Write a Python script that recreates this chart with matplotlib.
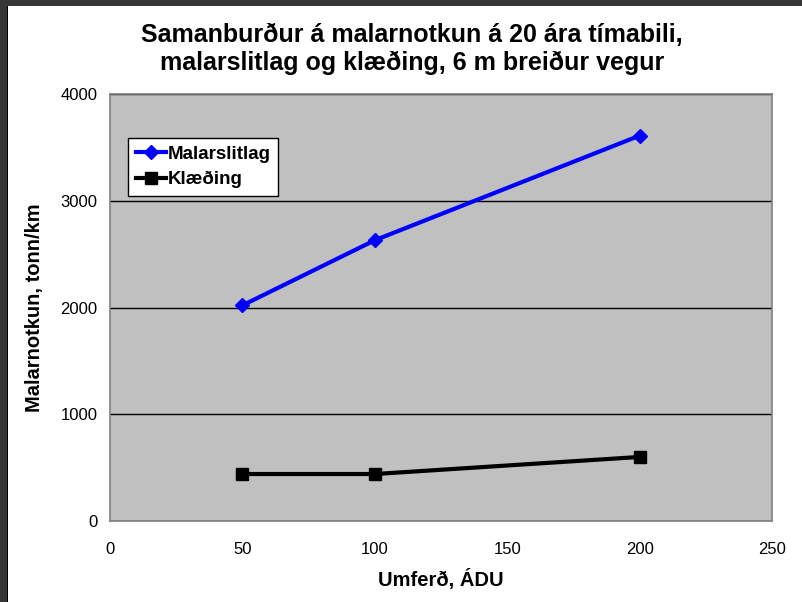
import matplotlib

matplotlib.use("Agg")
import matplotlib.pyplot as plt
from matplotlib.patches import Rectangle

plt.rcParams["font.family"] = ["Liberation Sans", "DejaVu Sans"]

umferd = [50, 100, 200]
malarslitlag = [2020, 2630, 3610]
klaeding = [440, 440, 600]

x_ticks = [0, 50, 100, 150, 200, 250]
y_ticks = [0, 1000, 2000, 3000, 4000]

fig = plt.figure(figsize=(8.02, 6.02), dpi=100)
fig.patch.set_facecolor("white")

# dark frame round the picture (left and top)
fig.patches.append(Rectangle((0, 0), 7 / 802, 1, transform=fig.transFigure,
                             facecolor="#363636", edgecolor="none", zorder=0))
fig.patches.append(Rectangle((0, 1 - 6 / 602), 1, 6 / 602, transform=fig.transFigure,
                             facecolor="#363636", edgecolor="none", zorder=0))
fig.patches.append(Rectangle((7 / 802, 0), 1.2 / 802, 1 - 6 / 602, transform=fig.transFigure,
                             facecolor="black", edgecolor="none", zorder=0))

ax = fig.add_axes([110 / 802, 81 / 602, 662 / 802, 427 / 602])
ax.set_facecolor("#c0c0c0")
for side in ax.spines.values():
    side.set_color("#808080")
    side.set_linewidth(1.2)

ax.plot(umferd, malarslitlag, color="#0000ff", linewidth=3, marker="D",
        markersize=7, label="Malarslitlag", zorder=3)
ax.plot(umferd, klaeding, color="black", linewidth=3, marker="s",
        markersize=8, label="Klæðing", zorder=3)

ax.set_xlim(0, 250)
ax.set_ylim(0, 4000)
ax.set_xticks(x_ticks)
ax.set_yticks(y_ticks)
ax.tick_params(length=0, labelsize=12)
ax.tick_params(axis="x", pad=15)
ax.tick_params(axis="y", pad=9)
ax.yaxis.grid(True, color="black", linewidth=1)
ax.set_axisbelow(True)

ax.set_xlabel("Umferð, ÁDU", fontsize=14.5, fontweight="bold", labelpad=9)
ax.set_ylabel("Malarnotkun, tonn/km", fontsize=14.5, fontweight="bold", labelpad=12)

fig.text(412 / 802, 1 - 49 / 602,
         "Samanburður á malarnotkun á 20 ára tímabili,\nmalarslitlag og klæðing, 6 m breiður vegur",
         ha="center", va="center", fontsize=18, fontweight="bold", linespacing=1.15)

leg = ax.legend(loc="upper left", bbox_to_anchor=(18 / 662, 1 - 44 / 427),
                frameon=True, fancybox=False, borderaxespad=0,
                prop={"size": 13.5, "weight": "bold"}, handlelength=1.6,
                handletextpad=0.1, borderpad=0.4, labelspacing=0.45)
leg.get_frame().set_edgecolor("black")
leg.get_frame().set_linewidth(1)
leg.get_frame().set_facecolor("white")
leg.get_frame().set_alpha(1)

fig.savefig("out.png", dpi=100)
